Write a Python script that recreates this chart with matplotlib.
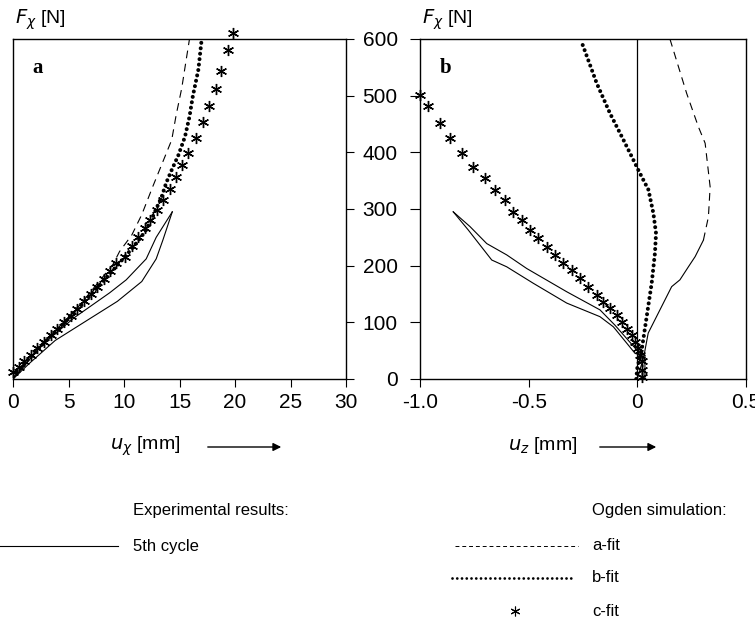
import numpy as np
import matplotlib.pyplot as plt

plt.rcParams['font.family'] = ['Liberation Sans Narrow', 'Liberation Sans', 'DejaVu Sans']

# ---- panel a: F_x over u_x [mm] ----
exp_a_load_u = [0, 1.5, 3.8, 6.8, 9.4, 11.6, 12.9, 13.5, 14.35]
exp_a_load_F = [0, 28, 68, 105, 137, 172, 212, 245, 295]
exp_a_unload_u = [14.35, 12.9, 12.0, 10.2, 8.7, 5.5, 2.5, 0]
exp_a_unload_F = [295, 250, 212, 175, 152, 108, 58, 0]

afit_a_u = [0, 3.0, 6.0, 9.0, 9.6, 10.7, 11.6, 12.6, 13.7, 14.3, 14.7, 15.2, 15.6, 15.9]
afit_a_F = [0, 68, 130, 202, 225, 254, 290, 340, 393, 422, 466, 513, 563, 600]

bfit_a_u = [0, 2.0, 4.0, 6.0, 8.0, 10.1, 11.0, 11.9, 12.6, 13.4, 13.8, 14.3, 14.9, 15.5,
            15.9, 16.2, 16.7, 17.0]
bfit_a_F = [5, 48, 87, 127, 170, 216, 237, 260, 287, 322, 346, 369, 395, 428,
            463, 499, 546, 600]

cfit_a_u = [0, 0.5, 1.0, 1.6, 2.2, 2.8, 3.4, 4.0, 4.6, 5.2, 5.8, 6.4, 7.0, 7.6, 8.2, 8.7,
            9.3, 10.1, 10.7, 11.3, 11.9, 12.3, 13.0, 13.5, 14.1, 14.7, 15.2, 15.8, 16.5,
            17.1, 17.7, 18.3, 18.7, 19.4, 19.8]
cfit_a_F = [12, 22, 32, 43, 55, 66, 77, 89, 100, 112, 124, 137, 150, 163, 177, 190,
            204, 216, 234, 251, 266, 281, 298, 316, 335, 356, 378, 399, 425,
            453, 481, 512, 544, 581, 610]

# ---- panel b: F_x over u_z [mm] ----
exp_b_load_u = [0.035, 0.035, -0.01, -0.11, -0.172, -0.325, -0.479, -0.601, -0.670, -0.778, -0.847]
exp_b_load_F = [0, 42, 45, 92, 110, 134, 169, 198, 210, 263, 295]
exp_b_unload_u = [-0.847, -0.770, -0.693, -0.601, -0.509, -0.325, -0.172, -0.103, 0.0, 0.035]
exp_b_unload_F = [295, 269, 239, 219, 195, 154, 122, 95, 50, 42]

afit_b_u = [0.0, 0.03, 0.05, 0.158, 0.196, 0.235, 0.266, 0.304, 0.327, 0.335, 0.312,
            0.281, 0.227, 0.150]
afit_b_F = [0, 40, 81, 163, 175, 198, 216, 245, 286, 339, 416, 445, 504, 600]

bfit_b_u = [-0.005, 0.0, 0.02, 0.043, 0.066, 0.081, 0.086, 0.074, 0.051, 0.012, -0.011,
            -0.064, -0.126, -0.187, -0.248, -0.258]
bfit_b_F = [0, 20, 51, 110, 169, 222, 257, 292, 334, 363, 381, 422, 469, 522, 586, 596]

cfit_b_u = [-1.0, -0.962, -0.908, -0.862, -0.808, -0.755, -0.701, -0.655, -0.609, -0.571,
            -0.532, -0.494, -0.456, -0.417, -0.379, -0.341, -0.302, -0.264, -0.225, -0.187,
            -0.156, -0.126, -0.095, -0.072, -0.049, -0.026, -0.011, 0.005, 0.01, 0.02,
            0.02, 0.02]
cfit_b_F = [501, 481, 451, 425, 398, 375, 354, 334, 316, 295, 281, 263, 248, 233, 219,
            204, 192, 178, 163, 148, 136, 125, 113, 101, 89, 78, 66, 54, 42, 31, 16, 4]

force_ticks = [0, 100, 200, 300, 400, 500, 600]

# line styles
exp_kw = dict(color='black', lw=0.8)
afit_kw = dict(color='black', lw=0.8, ls=(0, (7, 5)))
bfit_kw = dict(color='black', lw=2.9, ls=(0, (0.01, 1.35)), dash_capstyle='round')
cfit_kw = dict(ls='none', marker=(6, 2, 0), ms=8, mew=1.0, mec='black', color='black')

W, H = 755, 623
fig = plt.figure(figsize=(W / 100, H / 100), dpi=100)

ax_a = fig.add_axes([13 / W, 1 - 379 / H, 333 / W, 340 / H])
ax_b = fig.add_axes([420 / W, 1 - 379 / H, 326 / W, 340 / H])

# panel a
ax_a.plot(exp_a_load_u, exp_a_load_F, **exp_kw)
ax_a.plot(exp_a_unload_u, exp_a_unload_F, **exp_kw)
ax_a.plot(afit_a_u, afit_a_F, **afit_kw)
ax_a.plot(bfit_a_u, bfit_a_F, **bfit_kw)
ax_a.plot(cfit_a_u, cfit_a_F, clip_on=False, **cfit_kw)
ax_a.set_xlim(0, 30)
ax_a.set_ylim(0, 600)
ax_a.set_xticks([0, 5, 10, 15, 20, 25, 30])
ax_a.tick_params(axis='x', direction='out', length=6, labelsize=15, pad=4)
ax_a.yaxis.tick_right()
ax_a.set_yticks(force_ticks)
ax_a.tick_params(axis='y', direction='out', length=6, labelright=False)

# panel b - lower part of the a-fit looks solid in the print
ax_b.axvline(0, color='black', lw=0.9)
ax_b.plot(exp_b_load_u, exp_b_load_F, **exp_kw)
ax_b.plot(exp_b_unload_u, exp_b_unload_F, **exp_kw)
k = 7
ax_b.plot(afit_b_u[:k + 1], afit_b_F[:k + 1], color='black', lw=0.8)
ax_b.plot(afit_b_u[k:], afit_b_F[k:], **afit_kw)
ax_b.plot(bfit_b_u, bfit_b_F, **bfit_kw)
ax_b.plot(cfit_b_u, cfit_b_F, clip_on=False, **cfit_kw)
ax_b.set_xlim(-1.0, 0.5)
ax_b.set_ylim(0, 600)
ax_b.set_xticks([-1.0, -0.5, 0, 0.5])
ax_b.set_xticklabels(['-1.0', '-0.5', '0', '0.5'])
ax_b.set_yticks(force_ticks)
ax_b.tick_params(axis='x', direction='out', length=6, labelsize=15, pad=4)
ax_b.tick_params(axis='y', direction='out', length=7, labelsize=15, pad=9)

for ax in (ax_a, ax_b):
    for s in ax.spines.values():
        s.set_linewidth(1.0)

# overlay in pixel coordinates for labels, arrows and the legend block
ov = fig.add_axes([0, 0, 1, 1], facecolor='none')
ov.set_xlim(0, W)
ov.set_ylim(H, 0)
ov.axis('off')

ov.text(15, 20, r'$F_\chi$ [N]', fontsize=14, va='center')
ov.text(422, 20, r'$F_\chi$ [N]', fontsize=14, va='center')
ov.text(32, 68, 'a', family='Liberation Serif', fontweight='bold', fontsize=15, va='center')
ov.text(440, 68, 'b', family='Liberation Serif', fontweight='bold', fontsize=15, va='center')

ov.text(110, 446, r'$u_\chi$ [mm]', fontsize=14, va='center')
ov.text(508, 446, r'$u_z$ [mm]', fontsize=14, va='center')
ov.annotate('', xy=(284, 447), xytext=(205, 447),
            arrowprops=dict(arrowstyle='-|>', color='black', lw=1.0, mutation_scale=12))
ov.annotate('', xy=(659, 447), xytext=(597, 447),
            arrowprops=dict(arrowstyle='-|>', color='black', lw=1.0, mutation_scale=12))

leg_size = 12
ov.text(133, 511, 'Experimental results:', fontsize=leg_size, va='center')
ov.plot([0, 118], [546, 546], **exp_kw)
ov.text(133, 546, '5th cycle', fontsize=leg_size, va='center')

ov.text(592, 511, 'Ogden simulation:', fontsize=leg_size, va='center')
ov.plot([455, 578], [546, 546], color='black', lw=0.7, ls=(0, (4, 3)))
ov.text(592, 546, 'a-fit', fontsize=leg_size, va='center')
ov.plot([452, 573], [578, 578], color='black', lw=2.0, ls=(0, (0.01, 1.7)), dash_capstyle='round')
ov.text(592, 578, 'b-fit', fontsize=leg_size, va='center')
ov.plot([515], [611], ls='none', marker=(6, 2, 0), ms=7, mew=0.8, color='black')
ov.text(592, 611, 'c-fit', fontsize=leg_size, va='center')

fig.savefig('out.png', dpi=100)
